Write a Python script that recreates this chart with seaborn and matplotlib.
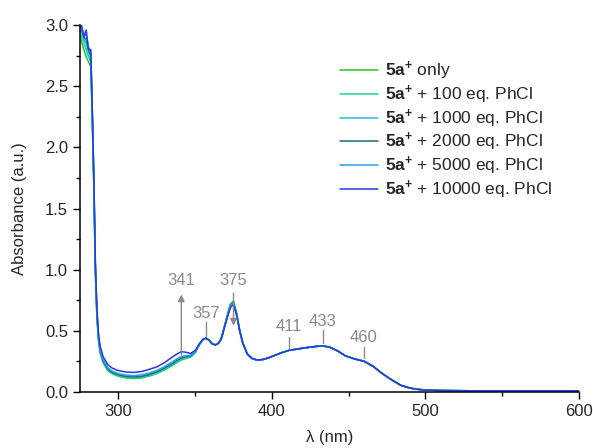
import matplotlib
matplotlib.use('Agg')
import matplotlib.pyplot as plt
from matplotlib.ticker import MultipleLocator
import pandas as pd
import seaborn as sns

# wavelengths where the six spectra differ (nm)
head_nm = [275, 276, 277.5, 279, 280.5, 282, 283, 284, 285, 286, 287, 288, 290,
           293, 296, 300, 305, 310, 315, 320, 325, 330, 335, 338, 341, 344, 347,
           350, 353, 355, 357, 359, 361, 363, 365, 367, 369, 371, 373, 375, 377,
           379, 381]

# absorbance for each titration point
only = [2.92, 2.86, 2.80, 2.74, 2.70, 2.66, 2.20, 1.65, 0.95, 0.60, 0.42, 0.32, 0.240,
        0.175, 0.148, 0.128, 0.115, 0.110, 0.115, 0.130, 0.150, 0.180, 0.215, 0.240, 0.262, 0.275, 0.285,
        0.320, 0.390, 0.425, 0.440, 0.425, 0.395, 0.385, 0.398, 0.440, 0.535, 0.630, 0.720, 0.745, 0.645,
        0.510, 0.405]
eq100 = [2.95, 2.90, 2.85, 2.80, 2.74, 2.70, 2.22, 1.67, 0.97, 0.61, 0.43, 0.33, 0.245,
         0.180, 0.152, 0.132, 0.119, 0.114, 0.119, 0.134, 0.155, 0.185, 0.220, 0.245, 0.267, 0.279, 0.288,
         0.322, 0.392, 0.426, 0.440, 0.425, 0.395, 0.385, 0.397, 0.438, 0.532, 0.627, 0.716, 0.740, 0.641,
         0.508, 0.404]
eq1000 = [3.00, 2.95, 2.88, 2.85, 2.78, 2.72, 2.25, 1.70, 0.99, 0.63, 0.44, 0.34, 0.250,
          0.185, 0.157, 0.137, 0.124, 0.119, 0.124, 0.139, 0.160, 0.190, 0.226, 0.251, 0.273, 0.284, 0.292,
          0.325, 0.393, 0.427, 0.440, 0.425, 0.395, 0.385, 0.397, 0.437, 0.530, 0.624, 0.712, 0.735, 0.638,
          0.506, 0.403]
eq2000 = [3.02, 2.97, 2.90, 2.88, 2.80, 2.75, 2.27, 1.72, 1.01, 0.64, 0.45, 0.35, 0.255,
          0.190, 0.161, 0.141, 0.128, 0.123, 0.128, 0.144, 0.165, 0.196, 0.232, 0.257, 0.279, 0.289, 0.295,
          0.328, 0.395, 0.428, 0.440, 0.425, 0.395, 0.385, 0.396, 0.436, 0.528, 0.621, 0.708, 0.730, 0.635,
          0.504, 0.402]
eq5000 = [3.04, 2.98, 2.92, 2.92, 2.82, 2.78, 2.28, 1.73, 1.03, 0.66, 0.46, 0.36, 0.265,
          0.200, 0.170, 0.150, 0.138, 0.134, 0.140, 0.155, 0.176, 0.207, 0.245, 0.270, 0.290, 0.297, 0.300,
          0.330, 0.397, 0.429, 0.440, 0.425, 0.395, 0.385, 0.396, 0.434, 0.525, 0.617, 0.702, 0.725, 0.632,
          0.502, 0.401]
eq10000 = [3.05, 3.00, 2.90, 2.96, 2.80, 2.80, 2.30, 1.75, 1.05, 0.68, 0.48, 0.38, 0.290,
           0.225, 0.195, 0.175, 0.163, 0.160, 0.167, 0.185, 0.205, 0.240, 0.285, 0.310, 0.330, 0.325, 0.315,
           0.340, 0.400, 0.430, 0.440, 0.425, 0.395, 0.385, 0.395, 0.430, 0.520, 0.610, 0.690, 0.715, 0.630,
           0.500, 0.400]

# beyond 381 nm all six spectra overlap
tail_nm = [384, 387, 390, 394, 398, 402, 406, 411, 416, 421, 427, 433, 438, 443, 448,
           454, 460, 466, 472, 478, 484, 490, 495, 500, 510, 530, 560, 600]
tail_abs = [0.310, 0.275, 0.262, 0.265, 0.280, 0.300, 0.320, 0.340, 0.350, 0.360, 0.370, 0.378,
            0.365, 0.335, 0.295, 0.270, 0.252, 0.210, 0.150, 0.100, 0.055, 0.032, 0.022, 0.016,
            0.012, 0.010, 0.010, 0.010]

labels = [r'$\mathbf{5a^{+}}$ only',
          r'$\mathbf{5a^{+}}$ + 100 eq. PhCl',
          r'$\mathbf{5a^{+}}$ + 1000 eq. PhCl',
          r'$\mathbf{5a^{+}}$ + 2000 eq. PhCl',
          r'$\mathbf{5a^{+}}$ + 5000 eq. PhCl',
          r'$\mathbf{5a^{+}}$ + 10000 eq. PhCl']
series = [only, eq100, eq1000, eq2000, eq5000, eq10000]
colors = ['#22cc22', '#20d0a0', '#22c0d8', '#1d6f6f', '#2a9ff0', '#2a3ae0']

# peak labels
peak_nm = [341, 357, 375, 411, 433, 460]

# Build long-form table
frames = []
for lab, vals in zip(labels, series):
    frames.append(pd.DataFrame({'nm': head_nm + tail_nm, 'abs': vals + tail_abs, 'series': lab}))
df = pd.concat(frames, ignore_index=True)

sns.set_style('ticks')
plt.rcParams['font.family'] = ['Liberation Sans', 'DejaVu Sans']
plt.rcParams['mathtext.fontset'] = 'custom'
plt.rcParams['mathtext.rm'] = 'Liberation Sans'
plt.rcParams['mathtext.bf'] = 'Liberation Sans:bold'

fig = plt.figure(figsize=(5.93, 4.48), dpi=100)
ax = fig.add_axes([0.135, 0.125, 0.841, 0.819])

sns.lineplot(data=df, x='nm', y='abs', hue='series', hue_order=labels,
             palette=dict(zip(labels, colors)), estimator=None, sort=False,
             linewidth=1.1, ax=ax)

ax.set_xlim(275, 600)
ax.set_ylim(0, 3.0)
ax.xaxis.set_major_locator(MultipleLocator(100))
ax.xaxis.set_minor_locator(MultipleLocator(50))
ax.yaxis.set_major_locator(MultipleLocator(0.5))
ax.yaxis.set_minor_locator(MultipleLocator(0.25))
ax.yaxis.set_major_formatter(plt.FormatStrFormatter('%.1f'))
ax.tick_params(which='major', direction='out', length=5, width=1, labelsize=12, color='black')
ax.tick_params(which='minor', direction='out', length=3, width=1, color='black')
for s in ['left', 'bottom']:
    ax.spines[s].set_linewidth(1.1)
    ax.spines[s].set_color('black')
sns.despine(ax=ax)

ax.set_xlabel('λ (nm)', fontsize=12, labelpad=8)
ax.set_ylabel('Absorbance (a.u.)', fontsize=12, labelpad=13)

# annotations
grey = '#8a8a8a'
ax.annotate('', xy=(341, 0.82), xytext=(341, 0.28),
            arrowprops=dict(arrowstyle='-|>', color=grey, lw=1.0, mutation_scale=10))
ax.annotate('', xy=(375, 0.52), xytext=(375, 0.83),
            arrowprops=dict(arrowstyle='-|>', color=grey, lw=1.0, mutation_scale=10))
ax.text(341, 0.91, str(peak_nm[0]), color=grey, fontsize=12, ha='center', va='center')
ax.text(375, 0.91, str(peak_nm[2]), color=grey, fontsize=12, ha='center', va='center')
for x, y0, y1, yt in [(357, 0.46, 0.575, 0.64), (411, 0.35, 0.45, 0.535),
                      (433, 0.40, 0.51, 0.575), (460, 0.28, 0.37, 0.445)]:
    ax.plot([x, x], [y0, y1], color=grey, lw=1.0)
    ax.text(x, yt, str(x), color=grey, fontsize=12, ha='center', va='center')

handles, labs = ax.get_legend_handles_labels()
ax.legend(handles, labs, loc='upper left', bbox_to_anchor=(0.521, 0.905),
          frameon=False, fontsize=12.5, handlelength=2.2, handletextpad=0.4,
          labelspacing=0.08, borderpad=0, borderaxespad=0)

plt.savefig('out.png', dpi=100)
